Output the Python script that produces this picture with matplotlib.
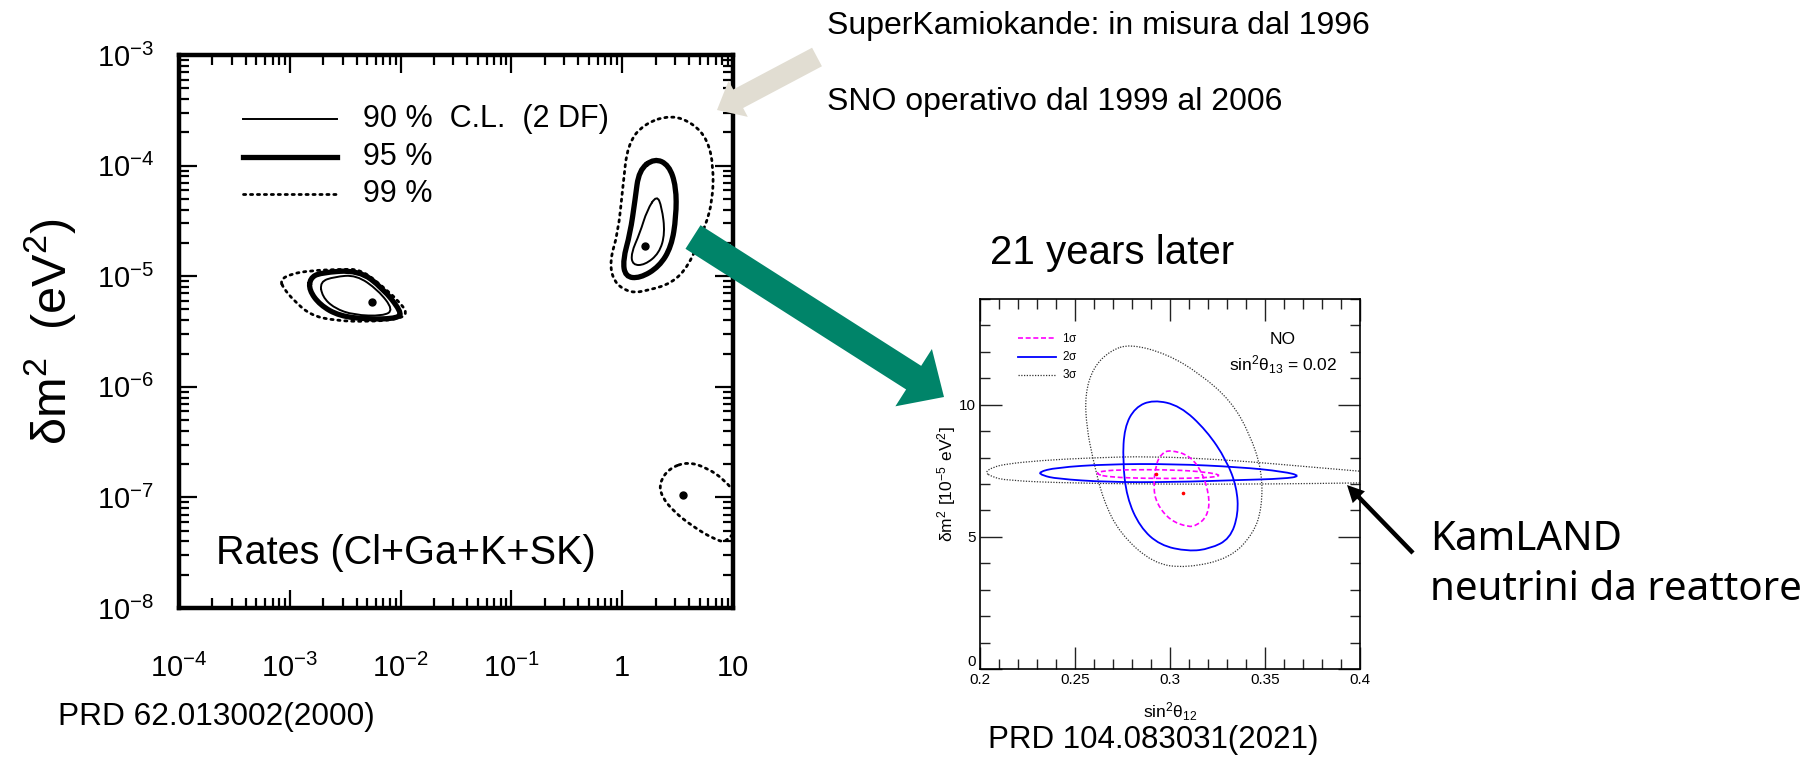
import matplotlib
matplotlib.use("Agg")
import matplotlib.pyplot as plt
import numpy as np
from matplotlib import font_manager
from matplotlib.path import Path
from matplotlib.patches import PathPatch, FancyArrow
from matplotlib.ticker import FixedLocator, FixedFormatter, LogLocator, NullFormatter, MultipleLocator

installed = {f.name for f in font_manager.fontManager.ttflist}
HAS_NARROW = "Liberation Sans Narrow" in installed

plt.rcParams["font.family"] = ["Liberation Sans", "DejaVu Sans"]
plt.rcParams["mathtext.default"] = "regular"

# ---------------------------------------------------------------------------
# 2000 rates-only fit: contours in (log10 tan^2(theta), log10 dm^2 [eV^2])
# ---------------------------------------------------------------------------
sma_cl90 = [(-2.728, -5.050), (-2.597, -5.005), (-2.400, -4.989), (-2.203, -5.125),
            (-2.063, -5.306), (-2.160, -5.360), (-2.422, -5.351), (-2.597, -5.290),
            (-2.707, -5.185)]
sma_cl95 = [(-2.816, -5.019), (-2.728, -4.968), (-2.378, -4.944), (-2.160, -5.109),
            (-1.993, -5.321), (-2.020, -5.381), (-2.291, -5.390), (-2.553, -5.360),
            (-2.728, -5.260), (-2.826, -5.125)]
sma_cl99 = [(-3.087, -5.034), (-2.991, -4.980), (-2.816, -4.950), (-2.553, -4.938),
            (-2.356, -4.938), (-2.160, -5.095), (-2.028, -5.215), (-1.932, -5.336),
            (-2.028, -5.390), (-2.291, -5.411), (-2.597, -5.402), (-2.816, -5.351),
            (-2.968, -5.215), (-3.056, -5.109)]

lma_cl90 = [(0.312, -4.266), (0.357, -4.372), (0.387, -4.612), (0.334, -4.793),
            (0.203, -4.899), (0.094, -4.899), (0.080, -4.793), (0.159, -4.612),
            (0.225, -4.401)]
lma_cl95 = [(0.291, -3.934), (0.422, -3.995), (0.487, -4.191), (0.487, -4.462),
            (0.444, -4.733), (0.334, -4.914), (0.159, -5.019), (0.028, -5.005),
            (0.006, -4.854), (0.072, -4.612), (0.116, -4.311), (0.151, -4.040)]
lma_cl99 = [(0.444, -3.542), (0.641, -3.618), (0.772, -3.769), (0.824, -4.010),
            (0.816, -4.311), (0.750, -4.552), (0.597, -4.914), (0.444, -5.064),
            (0.247, -5.125), (0.072, -5.155), (-0.081, -5.050), (-0.112, -4.854),
            (-0.038, -4.612), (0.006, -4.191), (0.050, -3.798), (0.203, -3.618)]

low_cl99 = [(0.597, -6.677), (0.772, -6.737), (0.925, -6.843), (1.050, -7.000),
            (1.080, -7.200), (0.947, -7.415), (0.816, -7.370), (0.641, -7.265),
            (0.466, -7.129), (0.357, -6.993), (0.334, -6.873), (0.422, -6.737)]

best_fit_2000 = [(-2.255, -5.233), (0.203, -4.727), (0.553, -6.978)]

left_xticks = [1e-4, 1e-3, 1e-2, 1e-1, 1, 10]
left_xticklabels = [r"$10^{-4}$", r"$10^{-3}$", r"$10^{-2}$", r"$10^{-1}$", "1", "10"]
left_yticks = [1e-8, 1e-7, 1e-6, 1e-5, 1e-4, 1e-3]
left_yticklabels = [r"$10^{-8}$", r"$10^{-7}$", r"$10^{-6}$", r"$10^{-5}$",
                    r"$10^{-4}$", r"$10^{-3}$"]
left_legend = ["90 %  C.L.  (2 DF)", "95 %", "99 %"]

# ---------------------------------------------------------------------------
# 2021 global fit: contours in (sin^2 theta12, dm^2 [1e-5 eV^2])
# ---------------------------------------------------------------------------
glob_1s = [(0.300, 8.29), (0.3105, 8.08), (0.3175, 7.38), (0.3211, 6.38), (0.3193, 5.75),
           (0.3140, 5.43), (0.3096, 5.37), (0.300, 5.62), (0.2930, 6.25), (0.2912, 6.88),
           (0.2926, 7.76), (0.2956, 8.16)]
glob_2s = [(0.2912, 10.19), (0.3053, 9.96), (0.3193, 9.02), (0.3298, 7.89), (0.3351, 6.88),
           (0.3360, 5.87), (0.3316, 4.93), (0.3211, 4.55), (0.3096, 4.45), (0.2947, 4.68),
           (0.2842, 5.37), (0.2772, 6.50), (0.2751, 7.89), (0.2760, 9.14), (0.2816, 9.90)]
glob_3s = [(0.279, 12.30), (0.2984, 11.92), (0.3158, 11.17), (0.332, 10.15), (0.342, 8.90),
           (0.3484, 7.50), (0.3484, 6.10), (0.3439, 5.12), (0.3316, 4.19), (0.3088, 3.82),
           (0.2912, 3.99), (0.2737, 5.12), (0.2649, 6.38), (0.2596, 7.89), (0.2561, 9.14),
           (0.2553, 10.40), (0.2596, 11.41), (0.2684, 12.04)]

kl_1s = [(0.2605, 7.41), (0.2654, 7.50), (0.2754, 7.54), (0.3018, 7.54), (0.3193, 7.45),
         (0.3277, 7.32), (0.3193, 7.23), (0.2930, 7.20), (0.2667, 7.26)]
kl_2s = [(0.2307, 7.45), (0.2400, 7.62), (0.2667, 7.75), (0.3018, 7.76), (0.3368, 7.64),
         (0.3600, 7.47), (0.3690, 7.30), (0.3600, 7.20), (0.3368, 7.15), (0.3018, 7.07),
         (0.2667, 7.07), (0.2404, 7.20), (0.2330, 7.32)]
kl_3s = [(0.2026, 7.45), (0.2070, 7.64), (0.2140, 7.76), (0.2320, 7.89), (0.2580, 7.99),
         (0.2900, 8.05), (0.3280, 7.92), (0.3540, 7.77), (0.4000, 7.48), (0.4300, 7.32),
         (0.4450, 7.20), (0.4300, 7.08), (0.4000, 7.04), (0.3540, 7.00), (0.3020, 6.99),
         (0.2490, 7.03), (0.2140, 7.13), (0.2060, 7.28)]

best_fit_global = (0.307, 6.65)
best_fit_kamland = (0.2926, 7.36)

right_xticks = [0.2, 0.25, 0.3, 0.35, 0.4]
right_xticklabels = ["0.2", "0.25", "0.3", "0.35", "0.4"]
right_yticks = [0, 5, 10]
right_yticklabels = ["0", "5", "10"]
right_legend = [r"1$\sigma$", r"2$\sigma$", r"3$\sigma$"]

# ---------------------------------------------------------------------------
W, H = 1819, 760
fig = plt.figure(figsize=(W / 100, H / 100), dpi=100)
fig.patch.set_facecolor("white")


def fx(px):
    return px / W


def fy(py):
    return 1 - py / H


def closed_curve(points, log=False):
    """Smooth closed outline (quadratic B-spline through the edge midpoints)."""
    p = np.asarray(points, float)
    m = (p + np.roll(p, -1, axis=0)) / 2
    verts = [m[-1]]
    codes = [Path.MOVETO]
    for i in range(len(p)):
        verts += [p[i], m[i]]
        codes += [Path.CURVE3, Path.CURVE3]
    verts = np.array(verts)
    if log:
        verts = 10.0 ** verts
    return Path(verts, codes)


# ---------------- left panel (2000) ----------------
ax1 = fig.add_axes([fx(179), fy(608), (733 - 179) / W, (608 - 55) / H])
ax1.set_xscale("log")
ax1.set_yscale("log")
ax1.set_xlim(1e-4, 10)
ax1.set_ylim(1e-8, 1e-3)

thin = dict(color="black", lw=1.4, linestyle="-")
thick = dict(color="black", lw=3.8, linestyle="-")
dots = dict(color="black", lw=2.0, linestyle=(0, (0.8, 1.7)))

for shape, style in [(sma_cl99, dots), (sma_cl95, thick), (sma_cl90, thin),
                     (lma_cl99, dots), (lma_cl95, thick), (lma_cl90, thin),
                     (low_cl99, dots)]:
    ax1.add_patch(PathPatch(closed_curve(shape, log=True), fill=False,
                            capstyle="round", **style))

bx = [10 ** p[0] for p in best_fit_2000]
by = [10 ** p[1] for p in best_fit_2000]
ax1.plot(bx, by, "o", color="black", ms=5)

ax1.xaxis.set_major_locator(FixedLocator(left_xticks))
ax1.xaxis.set_major_formatter(FixedFormatter(left_xticklabels))
ax1.yaxis.set_major_locator(FixedLocator(left_yticks))
ax1.yaxis.set_major_formatter(FixedFormatter(left_yticklabels))
for axis in (ax1.xaxis, ax1.yaxis):
    axis.set_minor_locator(LogLocator(base=10, subs=np.arange(2, 10), numticks=50))
    axis.set_minor_formatter(NullFormatter())
ax1.tick_params(which="both", direction="in", top=True, right=True, width=1.6,
                color="black")
ax1.tick_params(which="major", length=13, labelsize=21)
ax1.tick_params(which="minor", length=7)
ax1.tick_params(axis="x", which="major", pad=33)
ax1.tick_params(axis="y", which="major", pad=18)
for s in ax1.spines.values():
    s.set_linewidth(3.2)

# legend of the confidence levels
leg_y = [0.884, 0.8156, 0.7486]
for yy, style, lab in zip(leg_y, [thin, thick, dots], left_legend):
    ax1.plot([0.1155, 0.285], [yy, yy], transform=ax1.transAxes,
             dash_capstyle="round", **style)
    ax1.text(0.332, yy, lab, transform=ax1.transAxes, fontsize=22, va="center",
             ha="left")
ax1.text(0.067, 0.0995, "Rates (Cl+Ga+K+SK)", transform=ax1.transAxes, fontsize=28.5,
         va="center", ha="left")

fig.text(fx(50), fy(332), r"$δm^2$  $(eV^2)$", rotation=90, fontsize=35,
         ha="center", va="center")
fig.text(fx(58), fy(717), "PRD 62.013002(2000)", fontsize=22.8, ha="left",
         va="center")

# ---------------- right panel (2021) ----------------
ax2 = fig.add_axes([fx(980), fy(669), (1360 - 980) / W, (669 - 299) / H])
ax2.set_xlim(0.2, 0.4)
ax2.set_ylim(0, 14)

s1 = dict(color="#ff00ff", lw=1.2, linestyle=(0, (3, 1.6)))
s2 = dict(color="#0000ff", lw=1.3, linestyle="-")
s3 = dict(color="#333333", lw=0.9, linestyle=(0, (1, 1.2)))

for shape, style in [(glob_3s, s3), (kl_3s, s3), (glob_2s, s2), (kl_2s, s2),
                     (glob_1s, s1), (kl_1s, s1)]:
    ax2.add_patch(PathPatch(closed_curve(shape), fill=False, **style))

ax2.plot(*best_fit_global, "o", color="red", ms=1.6)
ax2.plot(*best_fit_kamland, "o", color="red", ms=1.6)

ax2.xaxis.set_major_locator(FixedLocator(right_xticks))
ax2.xaxis.set_major_formatter(FixedFormatter(right_xticklabels))
ax2.xaxis.set_minor_locator(MultipleLocator(0.01))
ax2.yaxis.set_major_locator(FixedLocator(right_yticks))
ax2.yaxis.set_major_formatter(FixedFormatter(right_yticklabels))
ax2.yaxis.set_minor_locator(MultipleLocator(1))
ax2.tick_params(which="both", direction="in", top=True, right=True, width=1.0,
                color="#222222")
ax2.tick_params(which="major", length=15.5, labelsize=11)
ax2.tick_params(which="minor", length=7.5)
ax2.tick_params(axis="x", which="major", pad=3)
ax2.tick_params(axis="y", which="major", pad=3)
# the "0" of the vertical axis sits just above the corner
ax2.get_yticklabels()[0].set_verticalalignment("bottom")
for s in ax2.spines.values():
    s.set_linewidth(1.2)

# legend of the 1/2/3 sigma contours
for py, style, lab in zip([338, 357, 375], [s1, s2, s3], right_legend):
    y = 14 * (669 - py) / (669 - 299)
    ax2.plot([0.2 + (1018 - 980) / 1900, 0.2 + (1056 - 980) / 1900], [y, y], **style)
    ax2.text(0.2 + (1062 - 980) / 1900, y, lab, fontsize=8.5, va="center", ha="left")

fig.text(fx(1283), fy(339), "NO", fontsize=12.5, ha="center", va="center")
fig.text(fx(1283), fy(365), r"$sin^2θ_{13}$ = 0.02", fontsize=12.5, ha="center",
         va="center")
fig.text(fx(1170), fy(712), r"$sin^2θ_{12}$", fontsize=12.5, ha="center",
         va="center")
fig.text(fx(947), fy(484), r"$δm^2\ [10^{-5}\ eV^2]$", rotation=90, fontsize=12.5,
         ha="center", va="center")
fig.text(fx(988), fy(740), "PRD 104.083031(2021)", fontsize=22.5, ha="left",
         va="center")

# ---------------- annotations ----------------
if HAS_NARROW:
    note_font = dict(family="Liberation Sans Narrow", fontsize=28)
else:
    note_font = dict(family="Liberation Sans", fontsize=23)
fig.text(fx(827), fy(26), "SuperKamiokande: in misura dal 1996", ha="left",
         va="center", **note_font)
fig.text(fx(827), fy(102), "SNO operativo dal 1999 al 2006", ha="left",
         va="center", **note_font)
fig.text(fx(990), fy(253), "21 years later", fontsize=29, ha="left", va="center")
fig.text(fx(1430), fy(540), "KamLAND", fontsize=29, family="Noto Sans", ha="left",
         va="center")
fig.text(fx(1430), fy(590), "neutrini da reattore", fontsize=29, family="Noto Sans",
         ha="left", va="center")

ov = fig.add_axes([0, 0, 1, 1], zorder=5)
ov.set_xlim(0, W)
ov.set_ylim(H, 0)
ov.axis("off")
ov.patch.set_alpha(0)

ov.add_patch(FancyArrow(693, 237, 944 - 693, 397 - 237, width=28, head_width=68,
                        head_length=36, length_includes_head=True,
                        color="#008469", lw=0))
ov.add_patch(FancyArrow(817, 57, 717 - 817, 110 - 57, width=21, head_width=41,
                        head_length=24, length_includes_head=True,
                        color="#e1ddd2", lw=0))
ov.add_patch(FancyArrow(1413, 553, 1347 - 1413, 485 - 553, width=4.5, head_width=17,
                        head_length=17, length_includes_head=True,
                        color="black", lw=0))

fig.savefig("out.png", dpi=100)
